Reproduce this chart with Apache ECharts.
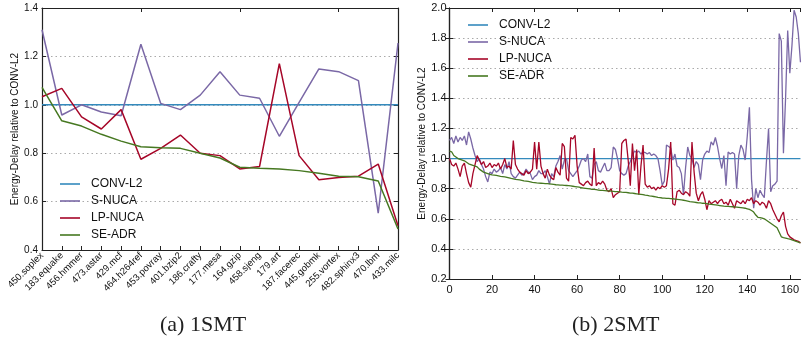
<!DOCTYPE html>
<html>
<head>
<meta charset="utf-8">
<script src="https://cdn.jsdelivr.net/npm/echarts@6/dist/echarts.min.js"></script>
<style>
  html, body { margin: 0; padding: 0; background: #fff; }
  #chart { width: 802px; height: 339px; }
</style>
</head>
<body>
<div id="chart"></div>
<script>
// (a) 1SMT
const benchmarks = ['450.soplex', '183.equake', '456.hmmer', '473.astar', '429.mcf', '464.h264ref',
  '453.povray', '401.bzip2', '186.crafty', '177.mesa', '164.gzip', '458.sjeng', '179.art',
  '187.facerec', '445.gobmk', '255.vortex', '482.sphinx3', '470.lbm', '433.milc']
const convL2_1 = [1, 1, 1, 1, 1, 1, 1, 1, 1, 1, 1, 1, 1, 1, 1, 1, 1, 1, 1]
const sNuca_1 = [1.31, 0.958, 1.0, 0.97, 0.955, 1.25, 1.006, 0.98, 1.04, 1.137, 1.04, 1.027, 0.87,
  1.01, 1.148, 1.137, 1.10, 0.552, 1.255]
const lpNuca_1 = [1.033, 1.068, 0.95, 0.90, 0.98, 0.775, 0.82, 0.875, 0.80, 0.79, 0.735, 0.745, 1.17,
  0.79, 0.69, 0.70, 0.705, 0.755, 0.50]
const seAdr_1 = [1.072, 0.934, 0.912, 0.878, 0.85, 0.827, 0.823, 0.82, 0.80, 0.78, 0.742, 0.738, 0.735,
  0.728, 0.717, 0.705, 0.703, 0.685, 0.487]

// (b) 2SMT  (index 0..165)
const convL2_2x = [0, 165]
const convL2_2 = [1.0, 1.0]
const sNuca_2 = [
  1.12, 1.14, 1.10, 1.15, 1.11, 1.14, 1.12, 1.15, 1.09, 1.177,
  1.13, 1.07, 1.02, 0.98, 1.00, 0.96, 0.93, 0.88, 0.845, 0.91,
  0.90, 0.93, 0.91, 0.92, 0.94, 0.90, 0.96, 0.93, 0.98, 0.90,
  0.88, 0.87, 0.89, 0.91, 0.89, 0.90, 0.93, 0.91, 0.90, 0.86,
  0.88, 0.89, 0.92, 0.90, 0.90, 0.92, 0.88, 0.83, 0.90, 0.88,
  0.95, 0.98, 1.02, 0.93, 0.99, 1.00, 0.92, 0.90, 0.88, 0.90,
  0.92, 0.95, 0.99, 1.00, 0.98, 1.03, 0.88, 0.87, 0.96, 0.98,
  0.92, 0.91, 0.94, 0.97, 0.92, 0.92, 0.94, 1.077, 1.06, 1.00,
  0.92, 0.90, 0.89, 0.90, 0.95, 0.98, 1.02, 1.05, 1.04, 1.05,
  1.03, 1.044, 1.04, 1.03, 1.04, 1.02, 1.03, 1.02, 1.00, 0.92,
  0.823, 0.85, 1.09, 1.08, 1.07, 0.99, 1.03, 0.95, 0.94, 0.90,
  0.76, 0.94, 1.077, 1.02, 1.00, 0.94, 0.98, 0.96, 0.86, 0.99,
  1.03, 1.05, 1.04, 1.11, 1.09, 1.14, 1.08, 1.00, 0.934, 1.02,
  0.82, 1.044, 1.03, 1.04, 1.03, 0.80, 1.02, 1.09, 1.06, 0.99,
  1.15, 1.34, 0.86, 0.67, 0.80, 0.74, 0.79, 0.76, 0.74, 0.98,
  1.20, 0.78, 0.82, 0.83, 0.85, 1.83, 1.78, 1.035, 1.40, 1.85,
  1.567, 1.75, 1.985, 1.94, 1.83, 1.64]
const lpNuca_2 = [
  1.00, 0.96, 0.95, 0.97, 0.93, 0.88, 0.95, 0.97, 0.90, 0.84,
  0.81, 0.90, 0.96, 1.02, 0.99, 0.96, 0.98, 0.94, 0.95, 0.97,
  0.94, 0.96, 0.95, 0.97, 0.93, 0.96, 1.00, 0.94, 0.95, 0.93,
  1.12, 0.96, 0.93, 0.91, 0.90, 0.89, 0.92, 0.90, 0.91, 0.93,
  1.11, 0.93, 1.11, 0.95, 0.90, 0.87, 0.93, 0.89, 0.87, 0.86,
  0.94, 0.91, 0.89, 1.10, 1.08, 0.87, 0.85, 1.14, 1.13, 1.155,
  0.95, 0.84, 0.83, 0.82, 0.84, 0.85, 0.83, 0.82, 1.07, 0.82,
  0.84, 0.83, 0.85, 0.83, 0.79, 0.78, 0.80, 0.74, 0.76, 0.77,
  0.78, 1.10, 1.12, 1.13, 0.99, 0.82, 1.10, 0.92, 1.06, 0.76,
  0.95, 1.09, 0.83, 0.81, 0.82, 0.80, 0.81, 0.79, 0.81, 0.80,
  0.82, 0.81, 0.82, 0.93, 1.11, 0.70, 0.69, 0.78, 0.79, 0.77,
  0.76, 0.78, 0.77, 0.75, 1.11, 0.91, 0.77, 0.72, 0.76, 0.78,
  0.73, 0.66, 0.72, 0.70, 0.71, 0.72, 0.70, 0.72, 0.73, 0.70,
  0.71, 0.69, 0.73, 0.70, 0.67, 0.72, 0.71, 0.70, 0.72, 0.70,
  0.73, 0.72, 0.74, 0.70, 0.72, 0.71, 0.69, 0.71, 0.70, 0.67,
  0.72, 0.70, 0.66, 0.63, 0.60, 0.58, 0.62, 0.645, 0.55, 0.50,
  0.48, 0.47, 0.46, 0.455, 0.45, 0.44]
const seAdr_2 = [
  1.05, 1.045, 1.02, 1.01, 1.00, 0.995, 0.99, 0.985, 0.975, 0.965,
  0.96, 0.955, 0.95, 0.945, 0.93, 0.92, 0.91, 0.905, 0.90, 0.895,
  0.892, 0.89, 0.888, 0.885, 0.882, 0.88, 0.878, 0.875, 0.872, 0.868,
  0.865, 0.862, 0.86, 0.858, 0.855, 0.852, 0.85, 0.848, 0.845, 0.842,
  0.84, 0.838, 0.837, 0.836, 0.835, 0.834, 0.833, 0.832, 0.83, 0.828,
  0.826, 0.825, 0.824, 0.823, 0.822, 0.821, 0.82, 0.818, 0.816, 0.814,
  0.812, 0.81, 0.806, 0.804, 0.802, 0.80, 0.798, 0.796, 0.795, 0.793,
  0.791, 0.789, 0.788, 0.787, 0.786, 0.785, 0.783, 0.782, 0.781, 0.78,
  0.779, 0.777, 0.776, 0.775, 0.773, 0.771, 0.77, 0.768, 0.766, 0.764,
  0.762, 0.76, 0.757, 0.755, 0.752, 0.75, 0.748, 0.745, 0.742, 0.74,
  0.738, 0.737, 0.736, 0.735, 0.734, 0.733, 0.731, 0.729, 0.727, 0.725,
  0.723, 0.72, 0.717, 0.714, 0.712, 0.71, 0.708, 0.706, 0.705, 0.703,
  0.702, 0.70, 0.698, 0.696, 0.694, 0.692, 0.69, 0.688, 0.686, 0.684,
  0.683, 0.682, 0.681, 0.68, 0.679, 0.678, 0.676, 0.674, 0.672, 0.67,
  0.666, 0.662, 0.655, 0.645, 0.625, 0.61, 0.608, 0.605, 0.60, 0.59,
  0.58, 0.57, 0.56, 0.55, 0.54, 0.51, 0.48, 0.475, 0.472, 0.468,
  0.465, 0.46, 0.455, 0.45, 0.445, 0.44]

const names = ['CONV-L2', 'S-NUCA', 'LP-NUCA', 'SE-ADR']
const colors = ['#348ABD', '#7A68A6', '#A60628', '#467821']

const font = 'Liberation Sans, Arial, sans-serif'
const pairs = (arr, xs) => arr.map((v, i) => [xs ? xs[i] : i, v])

const chart = echarts.init(document.getElementById('chart'))

// 轴的公共样式
const frameLine = { show: true, lineStyle: { color: '#222', width: 1.2 } }
const tickIn = { show: true, inside: true, length: 4, lineStyle: { color: '#222' } }
const dotted = { show: true, lineStyle: { color: '#aaa', type: [1.5, 3], width: 1 } }

const yName = 'Energy-Delay relative to CONV-L2'

// 图例只画一条短线
const legendBase = {
  data: names, orient: 'vertical', itemWidth: 20, itemHeight: 14, itemGap: 3,
  icon: 'path://M0,0H20V1.6H0Z',
  textStyle: { fontFamily: font, fontSize: 12, color: '#111', padding: [0, 0, 0, 6], lineHeight: 14 },
  selectedMode: false
}

const option = {
  animation: false,
  color: colors,
  title: [
    { text: '(a) 1SMT', left: 155, top: 309, textStyle: { fontFamily: 'Liberation Serif, serif', fontSize: 22, fontWeight: 'normal', color: '#222' } },
    { text: '(b) 2SMT', left: 567, top: 309, textStyle: { fontFamily: 'Liberation Serif, serif', fontSize: 22, fontWeight: 'normal', color: '#222' } }
  ],
  legend: [
    { ...legendBase, left: 55, top: 172 },
    { ...legendBase, left: 463, top: 13 }
  ],
  grid: [
    { left: 42, top: 8, width: 356, height: 242 },
    { left: 449.5, top: 8, width: 351.5, height: 271 }
  ],
  xAxis: [
    {
      type: 'category', gridIndex: 0, data: benchmarks, boundaryGap: false,
      axisLine: frameLine, axisTick: tickIn, splitLine: { show: false },
      axisLabel: { rotate: 45, fontSize: 9.5, fontFamily: font, color: '#111', margin: 4, interval: 0 }
    },
    {
      type: 'category', gridIndex: 0, data: benchmarks, boundaryGap: false, position: 'top',
      axisLine: frameLine, axisTick: tickIn, axisLabel: { show: false }, splitLine: { show: false }
    },
    {
      type: 'value', gridIndex: 1, min: 0, max: 165, interval: 20,
      axisLine: frameLine, axisTick: tickIn, splitLine: { show: false },
      axisLabel: { fontSize: 11, fontFamily: font, color: '#111', margin: 5, showMaxLabel: false }
    },
    {
      type: 'value', gridIndex: 1, min: 0, max: 165, interval: 20, position: 'top',
      axisLine: frameLine, axisTick: tickIn, axisLabel: { show: false }, splitLine: { show: false }
    }
  ],
  yAxis: [
    {
      type: 'value', gridIndex: 0, min: 0.4, max: 1.4, interval: 0.2,
      name: yName, nameLocation: 'middle', nameGap: 18,
      nameTextStyle: { fontFamily: font, fontSize: 10, color: '#111' },
      axisLine: frameLine, axisTick: tickIn, splitLine: dotted,
      axisLabel: { fontSize: 10, fontFamily: font, color: '#111', margin: 4, formatter: v => v.toFixed(1) }
    },
    {
      type: 'value', gridIndex: 0, min: 0.4, max: 1.4, interval: 0.2, position: 'right',
      axisLine: frameLine, axisTick: tickIn, axisLabel: { show: false }, splitLine: { show: false }
    },
    {
      type: 'value', gridIndex: 1, min: 0.2, max: 2.0, interval: 0.2,
      name: yName, nameLocation: 'middle', nameGap: 21,
      nameTextStyle: { fontFamily: font, fontSize: 10, color: '#111' },
      axisLine: frameLine, axisTick: tickIn, splitLine: dotted,
      axisLabel: { fontSize: 11, fontFamily: font, color: '#111', margin: 3, formatter: v => v.toFixed(1) }
    },
    {
      type: 'value', gridIndex: 1, min: 0.2, max: 2.0, interval: 0.2, position: 'right',
      axisLine: frameLine, axisTick: tickIn, axisLabel: { show: false }, splitLine: { show: false }
    }
  ],
  series: [
    // 1SMT
    ...[convL2_1, sNuca_1, lpNuca_1, seAdr_1].map((d, k) => ({
      name: names[k], type: 'line', xAxisIndex: 0, yAxisIndex: 0, data: d,
      symbol: 'none', lineStyle: { width: 1.5, color: colors[k] }, itemStyle: { color: colors[k] },
      z: k === 0 ? 2 : 3
    })),
    // 2SMT
    {
      name: names[0], type: 'line', xAxisIndex: 2, yAxisIndex: 2, data: pairs(convL2_2, convL2_2x),
      symbol: 'none', lineStyle: { width: 1.3, color: colors[0] }, itemStyle: { color: colors[0] }
    },
    ...[sNuca_2, lpNuca_2, seAdr_2].map((d, k) => ({
      name: names[k + 1], type: 'line', xAxisIndex: 2, yAxisIndex: 2, data: pairs(d),
      symbol: 'none', lineStyle: { width: 1.3, color: colors[k + 1] }, itemStyle: { color: colors[k + 1] }
    }))
  ]
}

chart.setOption(option)
</script>
</body>
</html>
